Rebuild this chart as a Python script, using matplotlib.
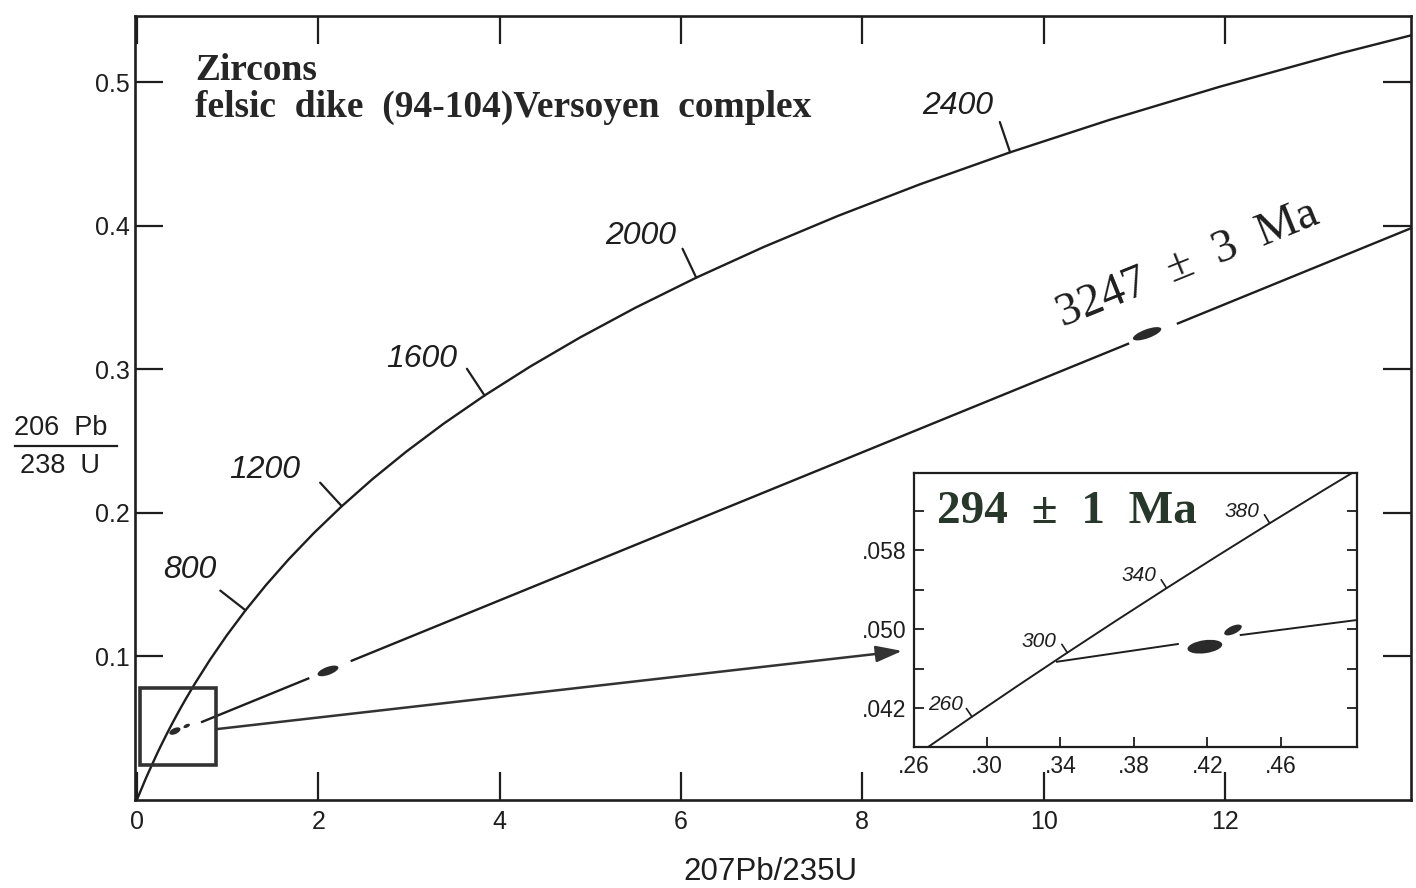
import numpy as np
import matplotlib
matplotlib.use('Agg')
import matplotlib.pyplot as plt
from matplotlib.patches import Ellipse, Rectangle
from matplotlib import transforms
from matplotlib.lines import Line2D

# ---------------- data ----------------
# Concordia curve: age (Ma) -> 207Pb/235U, 206Pb/238U
conc_age = [0, 100, 200, 220, 240, 260, 280, 300, 320, 340, 360, 380, 400, 420, 440,
            500, 600, 700, 800, 900, 1000, 1100, 1200, 1300, 1400, 1500, 1600, 1700,
            1800, 1900, 2000, 2100, 2200, 2300, 2400, 2500, 2600, 2700, 2800]
conc_x = [0.0, 0.10350, 0.21771, 0.24193, 0.26663, 0.29183, 0.31753, 0.34374, 0.37047,
          0.39774, 0.42553, 0.45389, 0.48281, 0.51231, 0.54239, 0.63628, 0.80563, 0.99251,
          1.19873, 1.42630, 1.67741, 1.95452, 2.26030, 2.59774, 2.97009, 3.38099, 3.83441,
          4.33477, 4.88690, 5.49618, 6.16853, 6.91046, 7.72916, 8.63262, 9.62958, 10.72971,
          11.94371, 13.28336, 14.76166]
conc_y = [0.0, 0.015633, 0.031511, 0.034717, 0.037932, 0.041157, 0.044392, 0.047637,
          0.050893, 0.054158, 0.057434, 0.060720, 0.064016, 0.067322, 0.070638, 0.080650,
          0.097544, 0.114702, 0.132129, 0.149828, 0.167804, 0.186061, 0.204603, 0.223435,
          0.242561, 0.261988, 0.281717, 0.301755, 0.322104, 0.342774, 0.363766, 0.385086,
          0.406741, 0.428733, 0.451068, 0.473753, 0.496794, 0.520193, 0.543959]

main_label_ages = [800, 1200, 1600, 2000, 2400]
inset_label_ages = [260, 300, 340, 380]

# Discordia segments (main diagram)
disc_x0 = [0.72, 2.37, 11.48]
disc_y0 = [0.0544, 0.0970, 0.3319]
disc_x1 = [1.89, 10.93, 14.05]
disc_y1 = [0.0846, 0.3177, 0.3982]

# Discordia segments (inset)
ins_x0 = [0.3381, 0.4381]
ins_y0 = [0.04672, 0.04942]
ins_x1 = [0.4039, 0.5014]
ins_y1 = [0.04851, 0.05094]

# Error ellipse centres
ell_x = [0.42, 0.55, 2.108, 11.14]
ell_y = [0.048, 0.0516, 0.0899, 0.3247]
ins_ell_x = [0.4186, 0.4339]
ins_ell_y = [0.04824, 0.04993]

x_ticks = [0, 2, 4, 6, 8, 10, 12]
y_ticks = [0.1, 0.2, 0.3, 0.4, 0.5]
ins_x_ticks = [0.26, 0.30, 0.34, 0.38, 0.42, 0.46]
ins_x_labels = ['.26', '.30', '.34', '.38', '.42', '.46']
ins_y_ticks = [0.042, 0.046, 0.050, 0.054, 0.058, 0.062]
ins_y_labels = ['.042', '', '.050', '', '.058', '']

# ---------------- figure ----------------
W, H = 1416, 888
plt.rcParams['font.family'] = ['Liberation Sans', 'DejaVu Sans']
fig = plt.figure(figsize=(W / 100, H / 100), dpi=100)
INK = '#1e1e1e'


def fx(px):
    return px / W


def fy(py):
    return 1 - py / H


ax = fig.add_axes([fx(135), fy(800), (1411 - 135) / W, (800 - 16) / H])
ax.set_xlim(-0.02, 14.05)
ax.set_ylim(0.0, 0.546)
for s in ax.spines.values():
    s.set_linewidth(1.9)
    s.set_color(INK)
ax.set_xticks(x_ticks)
ax.set_xticklabels([str(v) for v in x_ticks])
ax.set_yticks(y_ticks)
ax.set_yticklabels(['%.1f' % v for v in y_ticks])
ax.tick_params(direction='in', length=20, width=1.6, color=INK, top=True, right=True,
               labelsize=18, labelcolor=INK)
ax.tick_params(axis='x', pad=7)
ax.tick_params(axis='y', pad=4)

# concordia
ax.plot(conc_x, conc_y, color=INK, lw=1.7, solid_capstyle='butt')

# discordia
for a, b, c, d in zip(disc_x0, disc_y0, disc_x1, disc_y1):
    ax.plot([a, c], [b, d], color=INK, lw=1.7, clip_on=False)


def ellipse(axx, x, y, w, h, ang):
    tr = fig.dpi_scale_trans + transforms.ScaledTranslation(x, y, axx.transData)
    axx.add_patch(Ellipse((0, 0), w / 100, h / 100, angle=ang, transform=tr,
                          fc='#2a2a2a', ec='none', zorder=4))


for (x, y), (w, h, a) in zip(zip(ell_x, ell_y), [(12, 6, 25), (7, 3.5, 25), (22, 8, 20), (30, 9, 20)]):
    ellipse(ax, x, y, w, h, a)


# age ticks on concordia
def age_ticks(axx, ages, length, offsets, fs, lw):
    for age, (ox, oy) in zip(ages, offsets):
        i = conc_age.index(age)
        p0 = axx.transData.transform((conc_x[i - 1], conc_y[i - 1]))
        p1 = axx.transData.transform((conc_x[i + 1], conc_y[i + 1]))
        d = (p1 - p0) / np.hypot(*(p1 - p0))
        perp = np.array([-d[1], d[0]]) * length
        axx.annotate('', xy=(conc_x[i], conc_y[i]), xytext=(perp[0], perp[1]),
                     textcoords='offset pixels',
                     arrowprops=dict(arrowstyle='-', lw=lw, color=INK, shrinkA=0, shrinkB=0))
        axx.annotate(str(age), xy=(conc_x[i], conc_y[i]), xytext=(ox, oy),
                     textcoords='offset pixels', ha='center', va='center',
                     fontsize=fs, style='italic', color=INK)


age_ticks(ax, main_label_ages, 32,
          [(-56, 40), (-77, 36), (-63, 36), (-56, 42), (-52, 46)], 23, 1.6)

# zoom rectangle and arrow
ax.add_patch(Rectangle((0.04, 0.0244), 0.836, 0.0536, fill=False, ec='#333333', lw=2.6, zorder=3))
ax.annotate('', xy=(8.44, 0.1038), xytext=(0.884, 0.0494),
            arrowprops=dict(arrowstyle='-|>,head_length=0.8,head_width=0.25',
                            mutation_scale=20, lw=1.8, color='#333333',
                            shrinkA=0, shrinkB=0))

# ---------------- inset ----------------
axin = fig.add_axes([fx(913.5), fy(747), 443.5 / W, 274 / H])
axin.set_xlim(0.26, 0.5014)
axin.set_ylim(0.0381, 0.0658)
for s in axin.spines.values():
    s.set_linewidth(1.6)
    s.set_color(INK)
axin.set_xticks(ins_x_ticks)
axin.set_xticklabels(ins_x_labels)
axin.set_yticks(ins_y_ticks)
axin.set_yticklabels(ins_y_labels)
axin.tick_params(direction='in', length=7.5, width=1.3, color=INK, right=True,
                 labelsize=16.5, labelcolor=INK)
axin.tick_params(axis='x', pad=6)
axin.tick_params(axis='y', pad=5)

axin.plot(conc_x, conc_y, color=INK, lw=1.4)
for a, b, c, d in zip(ins_x0, ins_y0, ins_x1, ins_y1):
    axin.plot([a, c], [b, d], color=INK, lw=1.4)
for (x, y), (w, h, a) in zip(zip(ins_ell_x, ins_ell_y), [(35, 13, 8), (19, 8, 25)]):
    ellipse(axin, x, y, w, h, a)
age_ticks(axin, inset_label_ages, 10, [(-26, 12), (-28, 11), (-28, 13), (-28, 12)], 15, 1.2)

# ---------------- texts ----------------
serif = ['Liberation Serif', 'DejaVu Serif']
fig.text(fx(195), fy(80), 'Zircons', family=serif, weight='bold', fontsize=27,
         color='#262626', va='baseline', ha='left')
fig.text(fx(195), fy(117), 'felsic  dike  (94-104)Versoyen  complex', family=serif,
         weight='bold', fontsize=27, color='#262626', va='baseline', ha='left')
fig.text(fx(1188), fy(264), '3247  \u00b1  3  Ma', family=serif, fontsize=34,
         color='#1e1e1e', rotation=22, rotation_mode='anchor', ha='center', va='center')
fig.text(fx(937), fy(523), '294  \u00b1  1  Ma', family=serif, weight='bold', fontsize=34,
         color='#26382a', va='baseline', ha='left')

# axis labels
fig.text(fx(770), fy(872), '207Pb/235U', fontsize=22.5, color=INK, ha='center', va='center')
fig.text(fx(61), fy(435), '206  Pb', fontsize=19.5, color=INK, ha='center', va='baseline')
fig.text(fx(60), fy(473), '238  U', fontsize=19.5, color=INK, ha='center', va='baseline')
fig.add_artist(Line2D([fx(15), fx(117)], [fy(446), fy(446)], transform=fig.transFigure,
                      color=INK, lw=1.6))

fig.savefig('out.png', dpi=100)
